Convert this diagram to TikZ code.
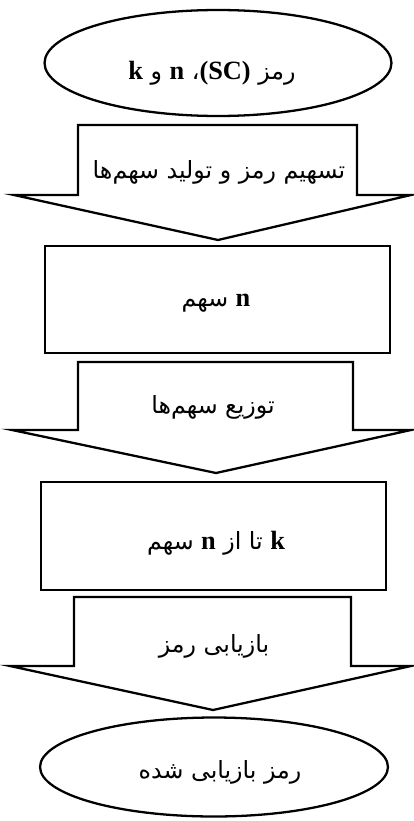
\documentclass[tikz,border=0pt]{standalone}
\usepackage{fontspec}
\usetikzlibrary{shapes.geometric}
\TeXXeTstate=1
\newfontfamily\arabicfont[Script=Arabic]{DejaVu Sans}
\newfontfamily\latbold{Liberation Serif}[BoldFont={Liberation Serif Bold}]
\newcommand{\Lt}[1]{\beginL{\latbold\bfseries\fontsize{15}{17}\selectfont #1}\endL}
\tikzset{
  ln/.style={draw=black, line width=1.3pt, line join=miter},
  ell/.style={ln, ellipse, inner sep=0pt},
  boxn/.style={ln, rectangle, inner sep=0pt},
  txt/.style={font=\arabicfont\fontsize{13.5}{15}\selectfont, inner sep=0pt},
}
\begin{document}
\begin{tikzpicture}[x=0.02cm, y=-0.02cm]
\useasboundingbox (0,0) rectangle (413,821);
% ellipse 1
\node[ell, minimum width=6.94cm, minimum height=2.12cm] (e1) at (218,63) {};
\node[txt] (t1) at (212,73) {\beginR رمز \Lt{(SC)}، \Lt{n} و \Lt{k}\endR};
% arrow 1
\draw[ln] (78,125) -- (357,125) -- (357,195) -- (411,195) -- (218,240) -- (14,195) -- (78,195) -- cycle;
\node[txt] (t2) at (219,172) {\beginR تسهیم رمز و تولید سهم‌ها\endR};
% box 1
\node[boxn, minimum width=6.9cm, minimum height=2.14cm] (b1) at (217.5,299.5) {};
\node[txt] (t3) at (216,303) {\beginR \Lt{n} سهم\endR};
% arrow 2
\draw[ln] (78,362) -- (353,362) -- (353,430) -- (411,430) -- (216,473) -- (12,430) -- (78,430) -- cycle;
\node[txt] (t4) at (213,407) {\beginR توزیع سهم‌ها\endR};
% box 2
\node[boxn, minimum width=6.9cm, minimum height=2.16cm] (b2) at (213.5,536) {};
\node[txt] (t5) at (216,543) {\beginR \Lt{k} تا از \Lt{n} سهم\endR};
% arrow 3
\draw[ln] (74,597) -- (351,597) -- (351,666) -- (411,666) -- (213,710) -- (10,666) -- (74,666) -- cycle;
\node[txt] (t6) at (214,646) {\beginR بازیابی رمز\endR};
% ellipse 2
\node[ell, minimum width=6.96cm, minimum height=1.98cm] (e2) at (214,767) {};
\node[txt] (t7) at (220,772) {\beginR رمز بازیابی شده\endR};
\end{tikzpicture}
\end{document}
